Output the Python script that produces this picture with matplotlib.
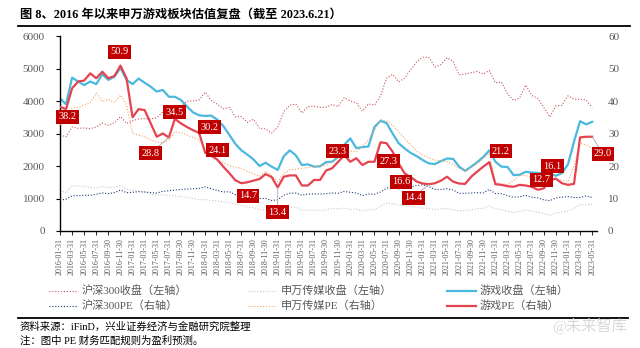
import numpy as np
import pandas as pd
import matplotlib
matplotlib.use("Agg")
import matplotlib.pyplot as plt
from matplotlib.lines import Line2D

plt.rcParams['font.family'] = ['Liberation Serif', 'Noto Sans CJK SC']

# 月度数据 2016-01 ~ 2023-05
hs300_close = [
    2950, 2900, 3200, 3160, 3170, 3150, 3200, 3320, 3250, 3330, 3520, 3310,
    3390, 3450, 3460, 3440, 3490, 3660, 3740, 3820, 3840, 4000, 4000, 4030,
    4270, 4020, 3900, 3760, 3800, 3510, 3520, 3340, 3440, 3150, 3140, 3010,
    3200, 3670, 3870, 3910, 3630, 3830, 3840, 3800, 3810, 3890, 3830, 4100,
    4000, 3940, 3690, 3910, 3870, 4160, 4700, 4820, 4590, 4700, 4960, 5210,
    5350, 5340, 5050, 5120, 5330, 5220, 4810, 4830, 4870, 4910, 4830, 4940,
    4560, 4580, 4220, 4020, 4090, 4490, 4170, 4080, 3800, 3510, 3850, 3870,
    4160, 4060, 4050, 4030, 3800]
media_close = [
    1250, 1180, 1400, 1380, 1370, 1340, 1320, 1370, 1330, 1350, 1400, 1290,
    1250, 1220, 1200, 1140, 1100, 1120, 1100, 1080, 1060, 1040, 1000, 960,
    970, 940, 930, 900, 880, 820, 790, 740, 720, 660, 650, 600,
    620, 710, 730, 730, 640, 640, 640, 630, 650, 700, 680, 710,
    660, 680, 620, 650, 660, 760, 860, 840, 800, 780, 760, 740,
    700, 690, 660, 680, 690, 650, 620, 630, 650, 690, 700, 770,
    680, 660, 610, 570, 600, 650, 620, 580, 530, 480, 560, 580,
    620, 680, 820, 800, 820]
game_close = [
    4080, 3900, 4720, 4600, 4490, 4600, 4520, 4820, 4650, 4750, 5020, 4650,
    4520, 4690, 4560, 4440, 4290, 4340, 4130, 4130, 4030, 3830, 3650, 3560,
    3540, 3550, 3430, 3230, 2960, 2680, 2480, 2350, 2200, 2000, 2100, 1980,
    1880, 2300, 2480, 2330, 2030, 2050, 1980, 1990, 2120, 2130, 2280, 2650,
    2850, 2550, 2580, 2600, 3200, 3390, 3320, 3000, 2700, 2540, 2400, 2300,
    2180, 2080, 2060, 2150, 2230, 2220, 1980, 1850, 1980, 2120, 2280, 2480,
    2130, 1980, 1970, 1720, 1730, 1820, 1800, 1790, 1770, 1760, 1700, 1780,
    2050, 2750, 3380, 3280, 3360]
hs300_pe = [
    9.5, 9.8, 10.8, 10.9, 11.0, 11.0, 11.3, 11.7, 11.5, 11.8, 12.6, 11.8,
    11.9, 12.1, 12.0, 11.8, 11.7, 12.2, 12.4, 12.6, 12.8, 12.9, 13.0, 13.1,
    13.6, 13.0, 12.5, 12.0, 12.1, 11.2, 11.3, 10.7, 10.9, 10.0, 10.0, 9.4,
    9.6, 11.0, 11.6, 11.7, 11.0, 11.4, 11.4, 11.4, 11.5, 11.7, 11.6, 12.2,
    11.9, 11.7, 10.9, 11.4, 11.3, 12.0, 13.2, 13.5, 13.0, 13.2, 13.6, 14.0,
    14.2, 13.7, 12.8, 12.8, 13.0, 12.6, 11.6, 11.6, 11.7, 11.8, 11.7, 12.8,
    11.5, 11.5, 10.9, 10.4, 10.5, 11.0, 10.4, 10.2, 9.6, 9.3, 10.2, 10.4,
    10.6, 10.3, 10.3, 10.8, 10.3]
media_pe = [
    32.6, 34.0, 37.8, 38.0, 38.8, 39.5, 42.5, 39.8, 40.5, 39.5, 41.8, 38.8,
    30.0, 29.5, 29.0, 28.0, 27.5, 27.0, 28.0, 30.6, 30.2, 29.5, 28.8, 28.0,
    25.0, 22.8, 21.8, 21.0, 20.2, 19.6, 19.3, 18.3, 17.6, 16.8, 18.4, 17.0,
    15.2, 17.7, 18.8, 19.0, 19.3, 19.5, 19.8, 20.0, 20.3, 21.5, 22.9, 24.4,
    24.6, 24.4, 26.0, 28.0, 31.0, 34.3, 33.8, 32.6, 30.5, 28.5, 26.5, 24.5,
    23.4, 22.5, 21.8, 21.6, 21.3, 20.5, 19.3, 18.3, 19.6, 20.8, 22.3, 23.9,
    15.0, 14.5, 14.3, 15.5, 17.2, 17.0, 16.7, 16.5, 16.2, 16.5, 16.0, 15.6,
    15.2, 20.0, 27.0, 26.5, 25.5]
game_pe = [
    38.2, 37.5, 43.9, 46.0, 46.3, 48.5, 47.0, 49.0, 47.0, 47.7, 50.9, 47.0,
    35.0, 37.5, 37.2, 33.1, 29.0, 30.0, 28.8, 34.5, 33.1, 32.0, 31.0, 30.2,
    24.1, 23.2, 22.0, 19.8, 17.8, 15.6, 14.7, 15.0, 15.5, 16.0, 17.5, 16.6,
    13.4, 16.7, 17.1, 17.1, 14.0, 14.0, 15.7, 15.7, 18.6, 19.3, 21.3, 23.3,
    21.3, 22.4, 20.3, 21.3, 21.3, 27.3, 27.0, 24.4, 20.8, 17.7, 16.6, 15.2,
    14.6, 14.4, 14.7, 15.5, 16.7, 15.2, 14.6, 14.5, 16.7, 18.3, 19.8, 21.2,
    14.4, 14.2, 13.8, 13.6, 14.2, 14.0, 13.6, 12.7, 13.1, 15.7, 16.1, 14.7,
    14.2, 14.5, 28.8, 29.0, 29.0]

# 标注的游戏PE点（月份序号）及标签框位置
label_idx = [0, 10, 19, 18, 23, 24, 30, 36, 47, 53, 58, 61, 71, 79, 82, 88]
label_pos = [(1.2, 35.1), (9.9, 55.1), (18.9, 36.6), (15.0, 24.0), (24.7, 32.0),
             (26.0, 24.9), (31.1, 10.8), (36.0, 5.8), (45.9, 24.6), (54.3, 21.5),
             (56.4, 15.1), (58.4, 10.2), (72.9, 24.6), (79.6, 15.7), (81.4, 20.0),
             (89.8, 23.7)]
leader = [18, 36, 61, 88]

tick_labels = pd.date_range('2016-01-31', periods=45, freq='2ME').strftime('%Y-%m-%d').tolist()

x = np.arange(len(game_pe))
dots = (0, (1, 1.6))

fig = plt.figure(figsize=(6.4, 3.48), dpi=100)
ax = fig.add_axes([60/640, 1-231/348, 537/640, 195/348])
ax2 = ax.twinx()

ax.plot(x, hs300_close, color='#C9545A', lw=0.8, ls=dots)
ax.plot(x, media_close, color='#C8C8C8', lw=0.8, ls=dots)
ax.plot(x, game_close, color='#4BB8DE', lw=1.6)
ax2.plot(x, hs300_pe, color='#1F3A78', lw=0.8, ls=dots)
ax2.plot(x, media_pe, color='#F5A462', lw=0.8, ls=dots)
ax2.plot(x, game_pe, color='#E5434F', lw=1.6)

ax.set_xlim(0, 88.8)
ax.set_ylim(0, 6000)
ax2.set_ylim(0, 60)
ax.set_yticks(range(0, 6001, 1000))
ax2.set_yticks(range(0, 61, 10))
ax.set_xticks(range(0, 89, 2))
ax.set_xticklabels(tick_labels, rotation=90, fontsize=5.8, color='#595959')

for s in ['top', 'right']:
    ax.spines[s].set_visible(False)
for s in ['top', 'right', 'left', 'bottom']:
    ax2.spines[s].set_visible(False)
ax.spines['left'].set_linewidth(1.0)
ax.spines['bottom'].set_linewidth(1.0)
ax.tick_params(axis='y', labelsize=8, colors='#595959', length=3, width=0.8, pad=8)
ax.tick_params(axis='y', color='black')
ax.tick_params(axis='x', length=3, width=0.6, pad=2, color='black')
ax2.tick_params(axis='y', labelsize=8, colors='#595959', length=0, pad=8)

for i, (lx, ly) in zip(label_idx, label_pos):
    arrow = dict(arrowstyle='-', color='#A6A6A6', lw=0.6, shrinkA=0, shrinkB=0) if i in leader else None
    ax2.annotate(f'{game_pe[i]:.1f}', xy=(i, game_pe[i]), xytext=(lx, ly), textcoords='data',
                 ha='center', va='center', color='white', fontsize=7.5,
                 bbox=dict(boxstyle='square,pad=0.22', fc='#C00000', ec='none'),
                 arrowprops=arrow, annotation_clip=False, zorder=5)

# 标题与分隔线
fig.text(20/640, 1-15/348, '图 8、2016 年以来申万游戏板块估值复盘（截至 2023.6.21）',
         fontsize=8.8, fontweight='bold', va='center', ha='left')
fig.add_artist(Line2D([18/640, 630/640], [1-26/348, 1-26/348], color='black', lw=1.3))
fig.add_artist(Line2D([18/640, 628/640], [1-318/348, 1-318/348], color='black', lw=1.3))

# 图例
legend_items = [
    ('沪深300收盘（左轴）', '#C9545A', dots, 0.8, 49, 291),
    ('沪深300PE（右轴）', '#1F3A78', dots, 0.8, 49, 306),
    ('申万传媒收盘（左轴）', '#C8C8C8', dots, 0.8, 248, 291),
    ('申万传媒PE（右轴）', '#F5A462', dots, 0.8, 248, 306),
    ('游戏收盘（左轴）', '#4BB8DE', '-', 1.6, 447, 291),
    ('游戏PE（右轴）', '#E5434F', '-', 1.6, 447, 306),
]
for text, c, ls, lw, lx, ly in legend_items:
    fig.add_artist(Line2D([lx/640, (lx + 29)/640], [1-ly/348, 1-ly/348], color=c, ls=ls, lw=lw))
    fig.text((lx + 33)/640, 1-ly/348, text, fontsize=8, color='#595959', va='center', ha='left')

fig.text(20/640, 1-327/348, '资料来源：iFinD，兴业证券经济与金融研究院整理', fontsize=7.5, va='center')
fig.text(20/640, 1-341/348, '注：图中 PE 财务匹配规则为盈利预测。', fontsize=7.5, va='center')
fig.text(627/640, 1-326/348, '@未来智库', fontsize=11, color='#D9D9D9', va='center', ha='right')

fig.savefig('out.png', dpi=100)
